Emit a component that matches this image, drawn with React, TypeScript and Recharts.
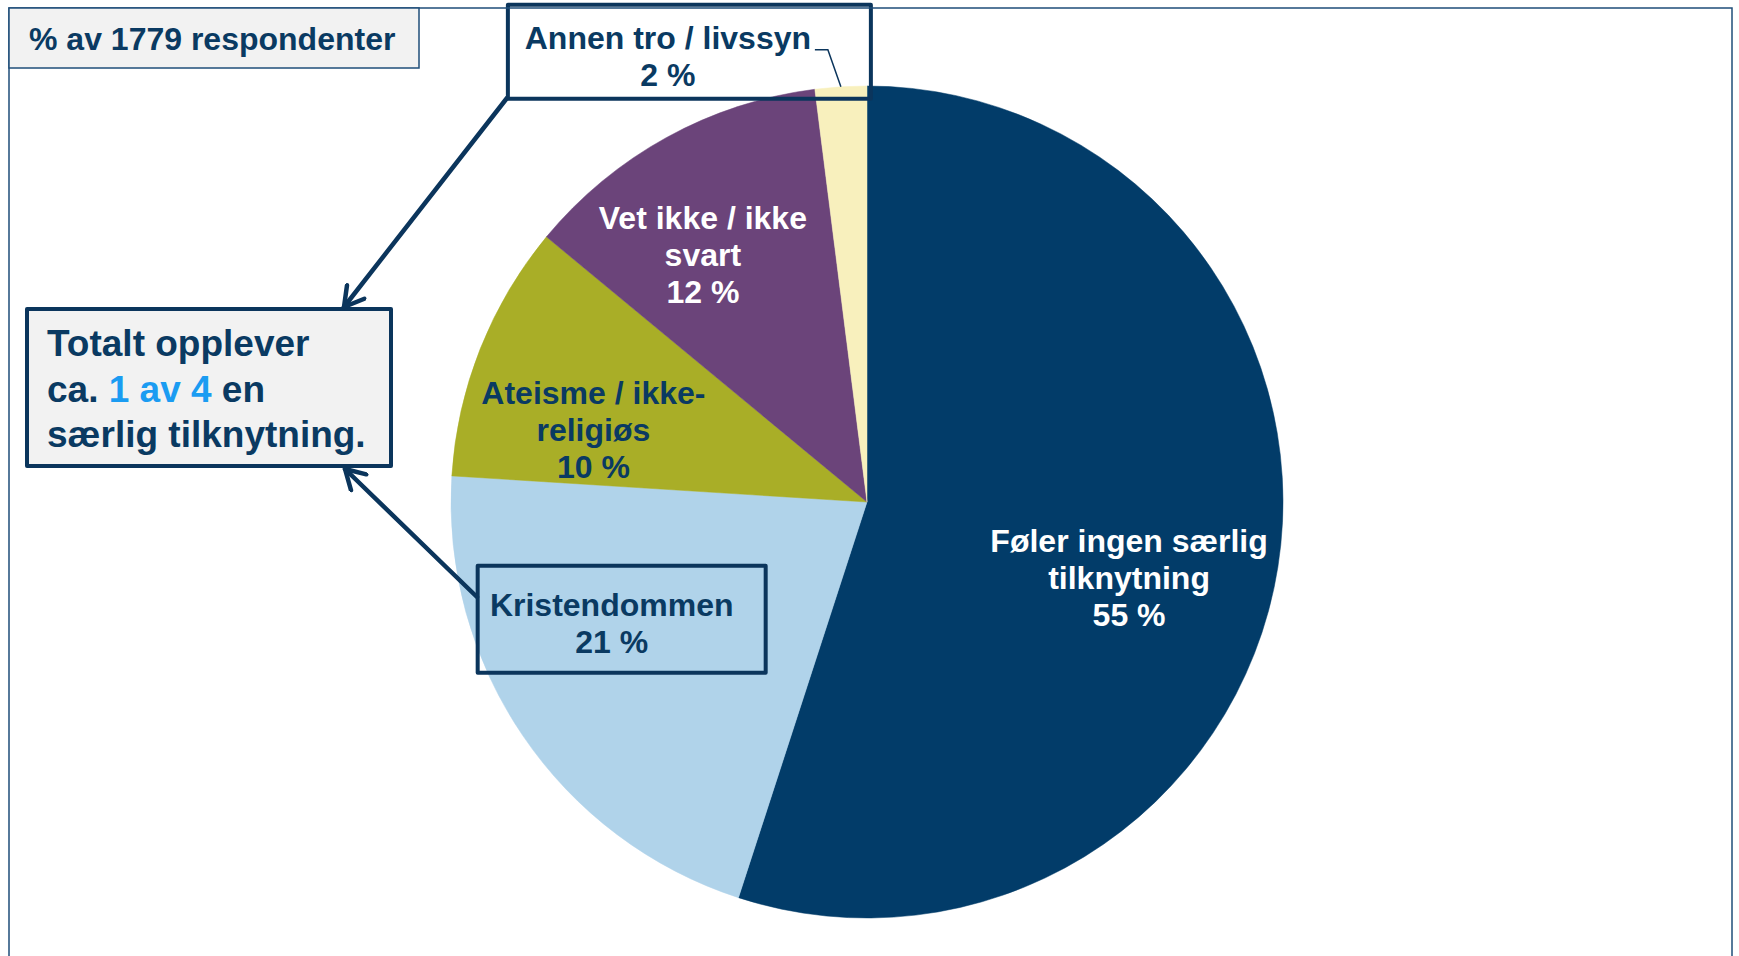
import React from 'react';
import { PieChart, Pie, Cell } from 'recharts';

// Survey: which religion / life stance do respondents feel attached to
const respondents = 1779;
const categories = [
  'Føler ingen særlig tilknytning',
  'Kristendommen',
  'Ateisme / ikke-religiøs',
  'Vet ikke / ikke svart',
  'Annen tro / livssyn',
];
const shares = [55, 21, 10, 12, 2];
const labelLines = [
  ['Føler ingen særlig', 'tilknytning'],
  ['Kristendommen'],
  ['Ateisme / ikke-', 'religiøs'],
  ['Vet ikke / ikke', 'svart'],
  ['Annen tro / livssyn'],
];
const sliceColors = ['#023c69', '#b0d3ea', '#a9ae27', '#6b447a', '#f8f0bd'];

const NAVY = '#0a3a62';
const BOX = '#0b355c';
const FONT = '"Liberation Sans", Arial, sans-serif';
const RAD = Math.PI / 180;

const data = categories.map((name, i) => ({ name, value: shares[i], lines: labelLines[i] }));

// label placement inside the slices: fraction of radius + angle shift from mid angle
const labelLayout = [
  { r: 0.656, shift: -7.2, color: '#ffffff' },
  { r: 0.68, shift: -8.7, color: NAVY },
  { r: 0.68, shift: 6.9, color: NAVY },
  { r: 0.713, shift: 4.8, color: '#ffffff' },
  { r: 0, shift: 0, color: NAVY },
];

const renderLabel = (props: any) => {
  const { cx, cy, midAngle, outerRadius, index, value, payload } = props;
  const lines: string[] = [...(payload?.lines ?? data[index].lines), `${value} %`];
  const lh = 37;

  if (index === 4) {
    // small slice: boxed label outside with a leader line
    const ex = cx + outerRadius * Math.cos(-midAngle * RAD);
    const ey = cy + outerRadius * Math.sin(-midAngle * RAD);
    const bx = ex - 333;
    const by = ey - 82;
    return (
      <g key={`lbl-${index}`}>
        <rect x={bx} y={by} width={363} height={94} fill="none" stroke={BOX} strokeWidth={4} strokeLinejoin="round" />
        <polyline points={`${ex - 26},${ey - 37} ${ex - 13},${ey - 37} ${ex},${ey}`} fill="none" stroke={BOX} strokeWidth={1.5} />
        {lines.map((t, i) => (
          <text key={i} x={ex - 173} y={ey - 49 + i * lh} textAnchor="middle" dominantBaseline="central"
            fontFamily={FONT} fontWeight="bold" fontSize={32} fill={NAVY}>{t}</text>
        ))}
      </g>
    );
  }

  const L = labelLayout[index];
  const a = midAngle + L.shift;
  const x = cx + L.r * outerRadius * Math.cos(-a * RAD);
  const y = cy + L.r * outerRadius * Math.sin(-a * RAD);
  const y0 = y - ((lines.length - 1) / 2) * lh;
  return (
    <g key={`lbl-${index}`}>
      {index === 1 && (
        <rect x={x - 134} y={y - 58} width={288} height={107} fill="none" stroke={BOX} strokeWidth={4} strokeLinejoin="round" />
      )}
      {lines.map((t, i) => (
        <text key={i} x={x} y={y0 + i * lh} textAnchor="middle" dominantBaseline="central"
          fontFamily={FONT} fontWeight="bold" fontSize={32} fill={L.color}>{t}</text>
      ))}
    </g>
  );
};

export default function App() {
  return (
    <div style={{ position: 'absolute', left: 0, top: 0, width: 1739, height: 956, background: '#fff', overflow: 'hidden' }}>
      <PieChart width={1739} height={956} margin={{ top: 0, right: 0, bottom: 0, left: 0 }}>
        <Pie
          data={data}
          dataKey="value"
          nameKey="name"
          cx={867}
          cy={502}
          outerRadius={416}
          startAngle={90}
          endAngle={-270}
          label={renderLabel}
          labelLine={false}
          isAnimationActive={false}
        >
          {data.map((d, i) => (
            <Cell key={d.name} fill={sliceColors[i]} stroke={sliceColors[i]} strokeWidth={0.5} />
          ))}
        </Pie>
      </PieChart>

      <svg width={1739} height={956} style={{ position: 'absolute', left: 0, top: 0, pointerEvents: 'none' }}>
        <defs>
          <marker id="arrowOpen" markerUnits="userSpaceOnUse" markerWidth={26} markerHeight={26}
            refX={22} refY={13} orient="auto">
            <path d="M3,2 L22,13 L3,24" fill="none" stroke={BOX} strokeWidth={4.5} strokeLinejoin="round" strokeLinecap="round" />
          </marker>
        </defs>
        {/* outer frame */}
        <rect x={9} y={8} width={1723} height={970} fill="none" stroke="#1f4e79" strokeWidth={1.5} />

        {/* title box */}
        <rect x={9} y={8} width={410} height={60} fill="#f2f2f2" stroke="#1f4e79" strokeWidth={1.5} />
        <text x={29} y={39} dominantBaseline="central" fontFamily={FONT} fontWeight="bold" fontSize={32} fill={NAVY}>
          % av {respondents} respondenter
        </text>

        {/* summary box */}
        <rect x={27} y={309} width={364} height={157} fill="#f2f2f2" stroke={BOX} strokeWidth={4} strokeLinejoin="round" />
        <text fontFamily={FONT} fontWeight="bold" fontSize={37} fill={NAVY} dominantBaseline="central">
          <tspan x={47} y={343}>Totalt opplever</tspan>
          <tspan x={47} y={389}>ca. <tspan fill="#1b9cf2">1 av 4</tspan> en</tspan>
          <tspan x={47} y={434}>særlig tilknytning.</tspan>
        </text>

        {/* arrows */}
        <line x1={507} y1={98} x2={344} y2={307} stroke={BOX} strokeWidth={4.5} strokeLinecap="round" markerEnd="url(#arrowOpen)" />
        <line x1={477} y1={597} x2={345} y2={469} stroke={BOX} strokeWidth={4.5} strokeLinecap="round" markerEnd="url(#arrowOpen)" />
      </svg>
    </div>
  );
}
